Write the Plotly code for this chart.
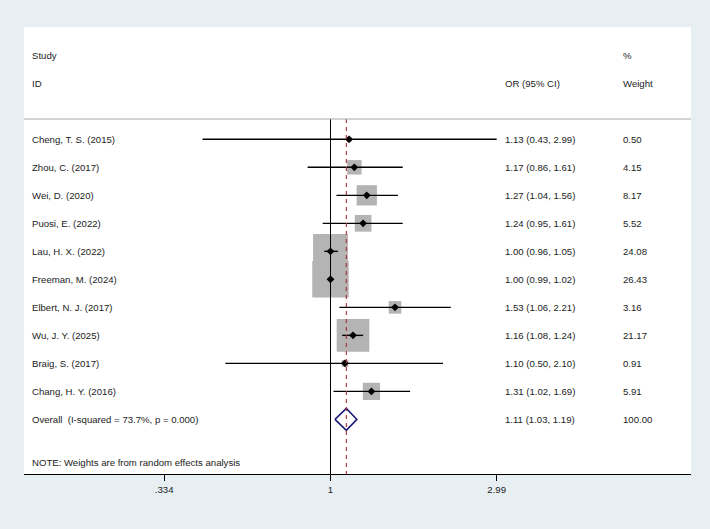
import numpy as np
import plotly.graph_objects as go

studies = ["Cheng, T. S. (2015)", "Zhou, C. (2017)", "Wei, D. (2020)", "Puosi, E. (2022)",
           "Lau, H. X. (2022)", "Freeman, M. (2024)", "Elbert, N. J. (2017)", "Wu, J. Y. (2025)",
           "Braig, S. (2017)", "Chang, H. Y. (2016)"]
or_est = [1.13, 1.17, 1.27, 1.24, 1.00, 1.00, 1.53, 1.16, 1.10, 1.31]
ci_lo = [0.43, 0.86, 1.04, 0.95, 0.96, 0.99, 1.06, 1.08, 0.50, 1.02]
ci_hi = [2.99, 1.61, 1.56, 1.61, 1.05, 1.02, 2.21, 1.24, 2.10, 1.69]
weights = [0.50, 4.15, 8.17, 5.52, 24.08, 26.43, 3.16, 21.17, 0.91, 5.91]

overall_label = "Overall\u00a0 (I-squared = 73.7%, p = 0.000)"
overall_est = 1.11
overall_lo = 1.03
overall_hi = 1.19
overall_weight = 100.00

tick_vals = [0.334, 1, 2.99]
tick_text = [".334", "1", "2.99"]

FONT = "Liberation Sans, Arial, sans-serif"
TXT = "#222222"
FS = 9.6
n = len(studies)
rows = list(range(n))
overall_row = n

fig = go.Figure()

# weight boxes
fig.add_trace(go.Scatter(
    x=or_est, y=rows, mode="markers",
    marker=dict(symbol="square", size=[7.1 * np.sqrt(w) for w in weights],
                color="#b4b4b4", opacity=1, line=dict(width=0)),
    hoverinfo="skip", showlegend=False))

# CI lines
xs, ys = [], []
for lo, hi, r in zip(ci_lo, ci_hi, rows):
    xs += [lo, hi, None]
    ys += [r, r, None]
fig.add_trace(go.Scatter(x=xs, y=ys, mode="lines",
                         line=dict(color="black", width=1.4),
                         hoverinfo="skip", showlegend=False))

# point estimates
fig.add_trace(go.Scatter(
    x=or_est, y=rows, mode="markers",
    marker=dict(symbol="diamond", size=6, color="black", opacity=1),
    hoverinfo="skip", showlegend=False))

# overall diamond
h = 0.39
fig.add_trace(go.Scatter(
    x=[overall_lo, overall_est, overall_hi, overall_est, overall_lo],
    y=[overall_row, overall_row - h, overall_row, overall_row + h, overall_row],
    mode="lines", line=dict(color="#1c1c78", width=1.6),
    hoverinfo="skip", showlegend=False))

y_top = -0.725
y_bot = 11.95
shapes = [
    dict(type="line", xref="x", yref="y", x0=1, x1=1, y0=y_top, y1=y_bot,
         line=dict(color="black", width=1)),
    dict(type="line", xref="x", yref="y", x0=overall_est, x1=overall_est, y0=y_top, y1=y_bot,
         line=dict(color="#b22a2a", width=1.1, dash="4px,4px")),
    dict(type="line", xref="paper", yref="y", x0=0, x1=1, y0=y_top, y1=y_top,
         line=dict(color="#a8a8a8", width=1)),
]

annotations = []
def txt(x, y, s):
    annotations.append(dict(x=x, y=y, xref="paper", yref="y", text=s, showarrow=False,
                            xanchor="left", yanchor="middle",
                            font=dict(family=FONT, size=FS, color=TXT)))

X_LAB, X_OR, X_W = 0.009, 0.718, 0.895
txt(X_LAB, -3.01, "Study")
txt(X_LAB, -1.98, "ID")
txt(X_OR, -1.98, "OR (95% CI)")
txt(X_W, -3.01, "%")
txt(X_W, -1.98, "Weight")
for r, s, e, lo, hi, w in zip(rows, studies, or_est, ci_lo, ci_hi, weights):
    txt(X_LAB, r, s)
    txt(X_OR, r, f"{e:.2f} ({lo:.2f}, {hi:.2f})")
    txt(X_W, r, f"{w:.2f}")
txt(X_LAB, overall_row, overall_label)
txt(X_OR, overall_row, f"{overall_est:.2f} ({overall_lo:.2f}, {overall_hi:.2f})")
txt(X_W, overall_row, f"{overall_weight:.2f}")
txt(X_LAB, 11.55, "NOTE: Weights are from random effects analysis")

fig.update_layout(
    width=710, height=529,
    margin=dict(l=24, r=19, t=27, b=55),
    paper_bgcolor="#e8eff3", plot_bgcolor="white",
    shapes=shapes, annotations=annotations,
    showlegend=False,
    xaxis=dict(type="log", range=[-0.8775, 1.0321], showgrid=False, zeroline=False,
               showline=True, linecolor="black", linewidth=1.3,
               ticks="outside", ticklen=6, tickcolor="black", tickwidth=1,
               tickvals=tick_vals, ticktext=tick_text,
               tickfont=dict(family=FONT, size=FS, color=TXT), fixedrange=True),
    yaxis=dict(range=[y_bot, -4.01], showgrid=False, zeroline=False, showline=False,
               showticklabels=False, ticks="", fixedrange=True),
    font=dict(family=FONT, size=FS, color=TXT),
)

fig.write_html("out.html")
